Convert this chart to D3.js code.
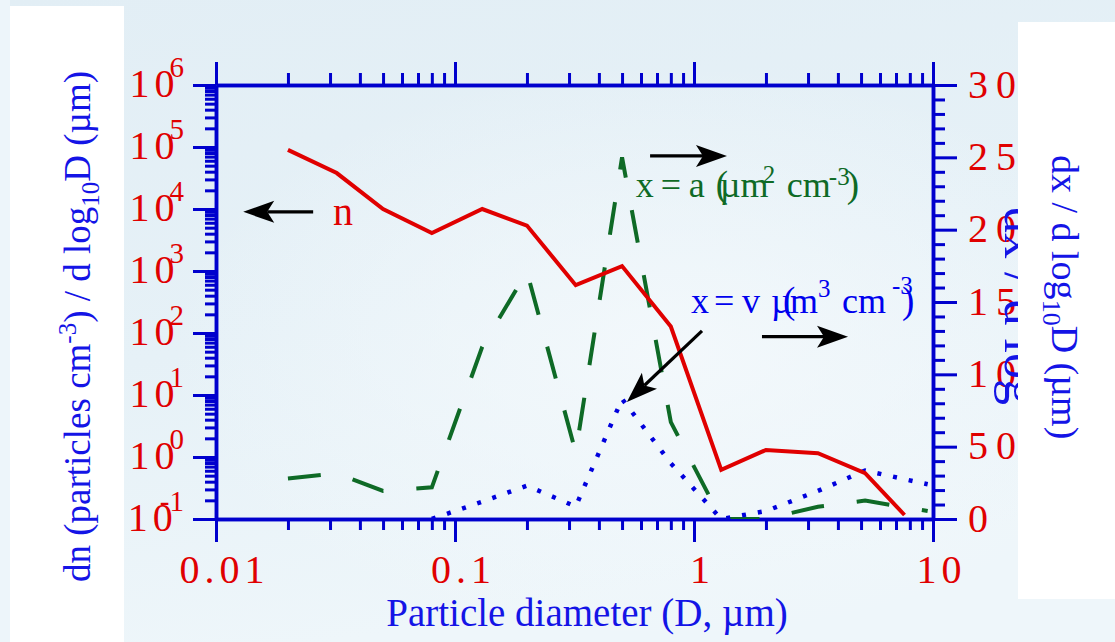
<!DOCTYPE html>
<html>
<head>
<meta charset="utf-8">
<script src="https://cdn.jsdelivr.net/npm/d3@7"></script>
<style>
body { margin: 0; }
svg { display: block; font-family: "Liberation Serif", "Times New Roman", serif; }
</style>
</head>
<body>
<svg width="1115" height="642"></svg>
<script>
// number distribution n (left axis)
var nDiameters = [0.02, 0.032, 0.05, 0.08, 0.13, 0.2, 0.32, 0.5, 0.8, 1.3, 2.0, 3.3, 5.2, 7.6];
var nValues = [9e4, 3.8e4, 1.0e4, 4.1e3, 1.0e4, 5.4e3, 590, 1200, 127, 0.62, 1.3, 1.15, 0.55, 0.116];

// surface distribution a (right axis)
var aDiameters = [0.02, 0.032, 0.05, 0.08, 0.13, 0.2, 0.32, 0.5, 0.8, 1.3, 2.0, 3.3, 5.2, 9.5];
var aValues = [28, 31.6, 19.4, 21.9, 119, 171, 46, 250, 67, 0, 0, 8.5, 12.7, 5.5];

// volume distribution v (right axis)
var vDiameters = [0.08, 0.13, 0.2, 0.32, 0.5, 0.8, 1.3, 2.0, 3.3, 5.2, 9.5];
var vValues = [0, 12, 23, 8.6, 83, 38.5, 0, 5.5, 19.4, 33.5, 24];

// axes
var xMajor = [0.01, 0.1, 1, 10];
var xLabels = ["0.01", "0.1", "1", "10"];
var yLeftExp = [-1, 0, 1, 2, 3, 4, 5, 6];
var yRightMajor = [0, 50, 100, 150, 200, 250, 300];

var red = "#e00000", green = "#0e6a26", blue = "#0000cd", titleBlue = "#1414e6";

var svg = d3.select("svg");
var defs = svg.append("defs");

var bg = defs.append("linearGradient").attr("id", "bg").attr("x1", 0).attr("y1", 0).attr("x2", 0.3).attr("y2", 1);
bg.append("stop").attr("offset", "0%").attr("stop-color", "#e2eef5");
bg.append("stop").attr("offset", "55%").attr("stop-color", "#e6f1f7");
bg.append("stop").attr("offset", "100%").attr("stop-color", "#eef6fa");
var glow = defs.append("radialGradient").attr("id", "glow").attr("cx", 0.6).attr("cy", 0.55).attr("r", 0.45);
glow.append("stop").attr("offset", "0%").attr("stop-color", "#f4f9fc").attr("stop-opacity", 0.9);
glow.append("stop").attr("offset", "100%").attr("stop-color", "#f4f9fc").attr("stop-opacity", 0);

svg.append("rect").attr("width", 1115).attr("height", 642).attr("fill", "url(#bg)");
svg.append("rect").attr("width", 1115).attr("height", 642).attr("fill", "url(#glow)");
svg.append("rect").attr("x", 0).attr("y", 0).attr("width", 10).attr("height", 642).attr("fill", "#edf5fa");

// white panel behind left title
svg.append("rect").attr("x", 10).attr("y", 6).attr("width", 114).attr("height", 636).attr("fill", "#fff");

var x = d3.scaleLog().domain([0.01, 10]).range([216, 933]);
var yL = d3.scaleLog().domain([0.1, 1e6]).range([519, 85]);
var yR = d3.scaleLinear().domain([0, 300]).range([519, 85]);

var xMinor = [];
[0.01, 0.1, 1].forEach(function(d) { for (var k = 2; k <= 9; k++) xMinor.push(d * k); });
var yMinor = [];
yLeftExp.slice(0, -1).forEach(function(e) { for (var k = 2; k <= 9; k++) yMinor.push(Math.pow(10, e) * k); });
var yRMinor = d3.range(0, 301, 10).filter(function(d) { return d % 50 !== 0; });

defs.append("clipPath").attr("id", "plot").append("rect")
  .attr("x", 216).attr("y", 85).attr("width", 717).attr("height", 434);

function styleAxis(g) {
  g.attr("font-size", null).attr("font-family", null);
  g.select(".domain").attr("stroke", blue).attr("stroke-width", 3.5);
  g.selectAll(".tick line").attr("stroke", blue).attr("stroke-width", 3);
}

// minor ticks first, then majors
svg.append("g").attr("transform", "translate(0,519)")
  .call(d3.axisBottom(x).tickValues(xMinor).tickSize(11).tickSizeOuter(0).tickFormat("")).call(styleAxis);
svg.append("g").attr("transform", "translate(0,85)")
  .call(d3.axisTop(x).tickValues(xMinor).tickSize(12).tickSizeOuter(0).tickFormat("")).call(styleAxis);
svg.append("g").attr("transform", "translate(216,0)")
  .call(d3.axisLeft(yL).tickValues(yMinor).tickSize(11).tickSizeOuter(0).tickFormat("")).call(styleAxis);
svg.append("g").attr("transform", "translate(933,0)")
  .call(d3.axisRight(yR).tickValues(yRMinor).tickSize(12).tickSizeOuter(0).tickFormat("")).call(styleAxis);

var bottom = svg.append("g").attr("transform", "translate(0,519)")
  .call(d3.axisBottom(x).tickValues(xMajor).tickSize(23).tickSizeOuter(0).tickPadding(14)
    .tickFormat(function(d, i) { return xLabels[i]; }))
  .call(styleAxis);
bottom.selectAll("text").attr("fill", red).attr("font-size", 40).attr("letter-spacing", 5)
  .attr("dx", 8).attr("y", 64).attr("dy", 0);

svg.append("g").attr("transform", "translate(0,85)")
  .call(d3.axisTop(x).tickValues(xMajor).tickSize(23).tickSizeOuter(0).tickFormat("")).call(styleAxis);

var left = svg.append("g").attr("transform", "translate(216,0)")
  .call(d3.axisLeft(yL).tickValues(yLeftExp.map(function(e) { return Math.pow(10, e); }))
    .tickSize(23).tickSizeOuter(0).tickFormat(""))
  .call(styleAxis);

var right = svg.append("g").attr("transform", "translate(933,0)")
  .call(d3.axisRight(yR).tickValues(yRightMajor).tickSize(24).tickSizeOuter(0).tickPadding(11).tickFormat(d3.format("d")))
  .call(styleAxis);
right.selectAll("text").attr("fill", red).attr("font-size", 40).attr("letter-spacing", 8)
  .attr("dy", 0).attr("y", 12);

// left tick labels 10^e
var leftLabels = svg.append("g").attr("fill", red).attr("font-size", 40);
yLeftExp.forEach(function(e) {
  var t = leftLabels.append("text").attr("x", 184).attr("y", yL(Math.pow(10, e)) + 12).attr("text-anchor", "end");
  t.append("tspan").text("1");
  t.append("tspan").attr("dx", 5).text("0");
  t.append("tspan").attr("dx", e < 0 ? -13 : -5).attr("dy", -20).attr("font-size", 29).text(e < 0 ? "-" + (-e) : e);
});

// original right title, only its first words peek out from behind the white panel
svg.append("text").attr("transform", "translate(1005,207) rotate(90)")
  .attr("fill", titleBlue).attr("font-size", 52).text("dx / d log");

// data lines
var plot = svg.append("g").attr("clip-path", "url(#plot)");

var lineN = d3.line().x(function(d, i) { return x(nDiameters[i]); }).y(function(d) { return yL(d); });
var lineA = d3.line().x(function(d, i) { return x(aDiameters[i]); }).y(function(d) { return yR(d); });
var lineV = d3.line().x(function(d, i) { return x(vDiameters[i]); }).y(function(d) { return yR(d); });

plot.append("path").datum(aValues).attr("d", lineA)
  .attr("fill", "none").attr("stroke", green).attr("stroke-width", 4).attr("stroke-dasharray", "33 33");
plot.append("path").datum(vValues).attr("d", lineV)
  .attr("fill", "none").attr("stroke", "#0000dd").attr("stroke-width", 4.5).attr("stroke-dasharray", "4 12");
plot.append("path").datum(nValues).attr("d", lineN)
  .attr("fill", "none").attr("stroke", red).attr("stroke-width", 4).attr("stroke-linejoin", "miter");

// arrows
function arrow(x1, y1, x2, y2) {
  var dx = x2 - x1, dy = y2 - y1, len = Math.sqrt(dx * dx + dy * dy);
  var ux = dx / len, uy = dy / len, px = -uy, py = ux;
  var L = 31, W = 11, B = 24;
  svg.append("line").attr("x1", x1).attr("y1", y1).attr("x2", x2 - ux * B).attr("y2", y2 - uy * B)
    .attr("stroke", "#000").attr("stroke-width", 3.2);
  svg.append("path").attr("fill", "#000").attr("d",
    "M" + x2 + "," + y2 +
    "L" + (x2 - ux * L + px * W) + "," + (y2 - uy * L + py * W) +
    "L" + (x2 - ux * B) + "," + (y2 - uy * B) +
    "L" + (x2 - ux * L - px * W) + "," + (y2 - uy * L - py * W) + "Z");
}
arrow(x(0.0255), yL(9e3), x(0.013), yL(9e3));
arrow(x(0.655), yR(251), x(1.374), yR(251));
arrow(x(1.08), yR(130), x(0.524), yR(80.9));
arrow(x(1.925), yR(126), x(4.41), yR(126));

svg.append("text").attr("x", x(0.0309)).attr("y", yL(5.5e3)).attr("fill", red).attr("font-size", 40).text("n");

// annotation labels: [text, x offset, baseline shift, font size]
var aLabel = [["x", 0, 0, 36], ["=", 25, 0, 36], ["a", 53, 0, 36], ["(", 80, 0, 37], ["µm", 84, 0, 36],
  ["2", 127, -14, 25], ["cm", 151, 0, 36], ["-3", 193, -12, 25], [")", 211, 0, 37]];
var vLabel = [["x", 0, 0, 36], ["=", 23, 0, 36], ["v", 51, 0, 36], ["µ", 80, 0, 36], ["(", 92, 0, 37],
  ["m", 99, 0, 36], ["3", 127, -16, 25], ["cm", 151, 0, 36], ["-3", 201, -19, 25], [")", 211, 0, 37]];

function drawLabel(parts, x0, y0, color) {
  var g = svg.append("g").attr("fill", color);
  parts.forEach(function(p) {
    g.append("text").attr("x", x0 + p[1]).attr("y", y0 + p[2]).attr("font-size", p[3]).text(p[0]);
  });
}
drawLabel(aLabel, x(0.571), yR(222.6), green);
drawLabel(vLabel, x(0.971), yR(142.4), "#0000ee");

// right white panel and right title
svg.append("rect").attr("x", 1018).attr("y", 22).attr("width", 97).attr("height", 577).attr("fill", "#fff");
var rt = svg.append("text").attr("transform", "translate(1052,155) rotate(90)")
  .attr("fill", titleBlue).attr("font-size", 38);
rt.append("tspan").text("dx / d log");
rt.append("tspan").attr("dy", 9).attr("font-size", 26).text("10");
rt.append("tspan").attr("dy", -9).text("D (µm)");

// left title
var lt = svg.append("text").attr("transform", "translate(90,582) rotate(-90)")
  .attr("fill", titleBlue).attr("font-size", 37);
lt.append("tspan").text("dn (particles  cm");
lt.append("tspan").attr("dy", -14).attr("font-size", 25).text("-3");
lt.append("tspan").attr("dy", 14).text(") / d log");
lt.append("tspan").attr("dy", 9).attr("font-size", 25).text("10");
lt.append("tspan").attr("dy", -9).text("D (µm)");

// x title
svg.append("text").attr("x", 587).attr("y", 626).attr("text-anchor", "middle")
  .attr("fill", titleBlue).attr("font-size", 39).text("Particle diameter (D, µm)");
</script>
</body>
</html>
